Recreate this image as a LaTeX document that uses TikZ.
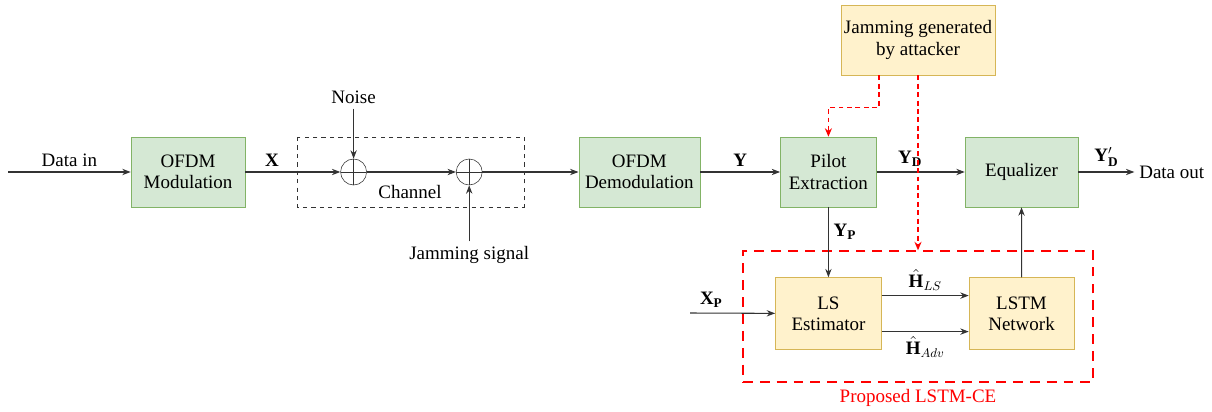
\documentclass[tikz,border=0pt]{standalone}
\usepackage{fontspec}
\setmainfont{Liberation Serif}
\usetikzlibrary{positioning,arrows.meta}
\definecolor{gfill}{HTML}{D5E8D4}
\definecolor{gline}{HTML}{82B366}
\definecolor{yfill}{HTML}{FFF2CC}
\definecolor{yline}{HTML}{D6B656}
\definecolor{wire}{HTML}{333333}

\begin{document}
\begin{tikzpicture}[x=0.025cm, y=-0.025cm,
    font=\fontsize{13.5}{15}\selectfont,
    box/.style={draw=gline, fill=gfill, align=center, minimum height=1.75cm, inner sep=0pt},
    ybox/.style={draw=yline, fill=yfill, align=center, minimum height=1.8cm, inner sep=0pt},
    sum/.style={draw=wire, circle, minimum size=0.65cm, inner sep=0pt,
      path picture={\draw[wire] (path picture bounding box.north) -- (path picture bounding box.south)
        (path picture bounding box.west) -- (path picture bounding box.east);}},
    arr/.style={-{Stealth[length=6pt, width=4.5pt]}, draw=wire, line width=0.75pt},
    redarr/.style={-{Stealth[length=6pt, width=5pt]}, draw=red, line width=1pt, dash pattern=on 3.5pt off 2.5pt}]
    \useasboundingbox (0,0) rectangle (1212,412);
    % main chain
    \node[box, minimum width=2.85cm] (mod) at (188,172) {OFDM\\Modulation};
    \node[sum, right=2.375cm of mod] (s1) {};
    \node[sum, right=2.225cm of s1] (s2) {};
    \node[box, minimum width=3.025cm, right=2.4cm of s2] (demod) {OFDM\\Demodulation};
    \node[box, minimum width=2.4cm, right=2.0cm of demod] (pilot) {Pilot\\Extraction};
    \node[box, minimum width=2.825cm, right=2.2cm of pilot] (eq) {Equalizer};
    \node[right=0.1cm of eq.east, xshift=1.3cm, anchor=west] (dout) {Data out};
    \node[above=1.25cm of s1] (noise) {Noise};
    \node[below=1.4cm of s2] (jsig) {Jamming signal};
    \node (chan) at (410,192) {Channel};
    \draw[wire, dashed, thin] (297,137) rectangle (524,207);
    % estimator
    \node[ybox, minimum width=2.65cm, below=1.75cm of pilot] (ls) {LS\\Estimator};
    \node[ybox, minimum width=2.625cm, right=2.175cm of ls] (lstm) {LSTM\\Network};
    \node[ybox, minimum width=3.85cm, minimum height=1.75cm] (jam) at (918,40) {Jamming generated\\by attacker};
    \node[draw=red, line width=1pt, dash pattern=on 7pt off 5pt, minimum width=8.75cm, minimum height=3.275cm] (ce) at (918,316.5) {};
    \node[red, below=0.05cm of ce] (celabel) {Proposed LSTM-CE};
    \coordinate (din) at (8,172);
    \coordinate (xp) at (690,313);
    % connectors
    \draw[arr] (din) -- node[above]{Data in} (mod);
    \draw[arr] (mod) -- node[above, pos=0.28]{$\mathbf{X}$} (s1);
    \draw[arr] (s1) -- (s2); \draw[arr] (s2) -- (demod);
    \draw[arr] (demod) -- node[above]{$\mathbf{Y}$} (pilot);
    \draw[arr] (pilot) -- node[above, pos=0.38]{$\mathbf{Y_D}$} (eq);
    \draw[arr] (eq) -- node[above]{$\mathbf{Y'_D}$} (dout);
    \draw[arr] (noise) -- (s1); \draw[arr] (jsig) -- (s2);
    \draw[arr] (pilot) -- node[right, pos=0.35]{$\mathbf{Y_P}$} (ls);
    \draw[arr] (xp) -- node[above, pos=0.25]{$\mathbf{X_P}$} (ls);
    \draw[arr] ([yshift=0.45cm]ls.east) -- node[above]{$\hat{\mathbf{H}}_{LS}$} ([yshift=0.45cm]lstm.west);
    \draw[arr] ([yshift=-0.45cm]ls.east) -- node[below]{$\hat{\mathbf{H}}_{Adv}$} ([yshift=-0.45cm]lstm.west);
    \draw[arr] (lstm) -- (eq);
    \draw[redarr] ([xshift=-0.975cm]jam.south) -- ++(0,32) -| (pilot.north);
    \draw[redarr] (jam.south) -- (ce.north);
\end{tikzpicture}
\end{document}
